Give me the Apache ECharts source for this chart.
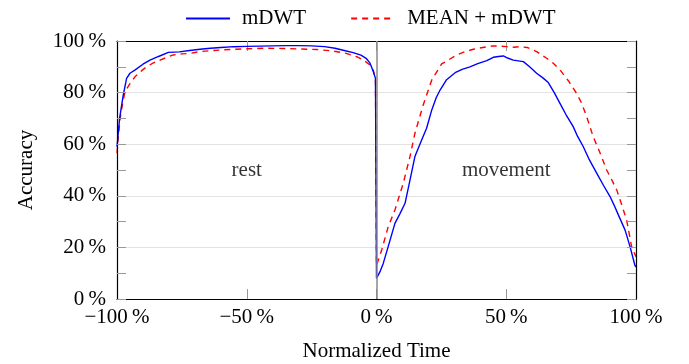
<!DOCTYPE html>
<html>
<head>
<meta charset="utf-8">
<script src="https://cdn.jsdelivr.net/npm/echarts@6/dist/echarts.min.js"></script>
<style>html,body{margin:0;padding:0;background:#fff}#c{width:689px;height:364px}</style>
</head>
<body>
<div id="c"></div>
<script>
// ---- data ----
const seriesNames = ['mDWT', 'MEAN + mDWT'];
const xTicks = [-100, -50, 0, 50, 100];
const yTicks = [0, 20, 40, 60, 80, 100];
const regionLabels = ['rest', 'movement'];
const regionX = [-50, 50];
const regionY = [50, 50];

const mdwtX = [-100, -99, -97.6, -96.3, -95, -93, -90, -87.3, -84, -80.2, -76, -72, -68, -64, -60, -55, -50, -45, -40, -35, -30, -25, -20, -16, -12, -9, -6, -4, -2.5, -1.2, -0.4,
  0, 1.3, 2.6, 4.5, 7.1, 9, 11, 12.9, 14.8, 17.4, 19.3, 21.3, 23, 24.5, 27, 30.3, 33, 36, 39, 42.5, 45, 47, 48.9, 50.5, 52.7, 56.6, 59, 61.7, 64, 66.2, 68.5, 70.7, 73, 75.8, 77.5, 79.7, 82, 84.9, 87.5, 90, 91.5, 93.2, 95.8, 97.7, 99.6, 100];
const mdwtY = [59, 70, 79, 85.5, 87.5, 88.8, 91, 92.6, 94, 95.6, 95.8, 96.3, 96.8, 97.2, 97.5, 97.8, 97.9, 98, 98.1, 98.2, 98.2, 98.1, 97.8, 97.2, 96.2, 95.5, 94.5, 93.3, 91.4, 88.1, 85.5,
  8, 10.5, 13.8, 20.3, 29.3, 33, 37.1, 46.1, 55.2, 61.6, 66.2, 73.3, 78, 81, 85, 87.7, 89, 90, 91.2, 92.4, 93.7, 94, 94.2, 93.4, 92.6, 92, 90, 87.5, 85.8, 83.9, 80, 75.8, 71.5, 66.8, 63, 59, 54, 48.7, 44, 39.7, 36.5, 32.6, 26.7, 20.3, 13, 12.4];

const meanX = [-100, -99.5, -98.8, -97.8, -96.9, -95, -93, -90.5, -88.6, -86, -83.4, -80.5, -78.3, -75, -71.9, -68, -64.2, -60, -55, -50, -42.3, -35, -29.5, -23, -16.6, -12, -7.6, -5, -2.5, -1.2, -0.4,
  0, 2, 4.5, 7.1, 10.3, 12.9, 14.8, 18, 21.3, 25.1, 27.5, 30.9, 34, 37.3, 41, 45, 47.5, 50.2, 53, 55.3, 58, 61.7, 65.6, 68, 70.7, 74, 77.1, 79, 81, 83.5, 86, 88.7, 90.5, 92.6, 94.5, 96.4, 98.3, 100];
const meanY = [56.5, 63, 70, 76, 80.4, 83.5, 86.2, 88.5, 90, 91.5, 92.6, 93.8, 94.6, 95, 95.2, 95.9, 96.2, 96.5, 96.8, 97, 97.2, 97.1, 96.9, 96.7, 96.1, 95.3, 93.9, 92.6, 90.7, 88.5, 85,
  13, 19, 28, 34.5, 44.8, 55.2, 64.2, 75.2, 84.9, 91.1, 92.5, 94.6, 95.8, 96.8, 97.5, 98.1, 98, 97.8, 97.6, 97.8, 97.5, 95.9, 93.3, 91.5, 88.8, 84.5, 79.7, 76, 70.7, 62.9, 57, 50, 46.5, 42.2, 36.5, 30.6, 20.3, 16.4];

// ---- chart ----
const FONT = 'Liberation Serif';
const zip = (xs, ys) => xs.map((x, i) => [x, ys[i]]);
const pct = v => (v < 0 ? '\u2212' + Math.abs(v) : String(v)) + '\u2009%';

const chart = echarts.init(document.getElementById('c'), null, {renderer: 'canvas'});
const tickStyle = {color: '#999', width: 1};
const blackLine = {show: true, onZero: false, lineStyle: {color: '#000', width: 1.2}};
chart.setOption({
  animation: false,
  textStyle: {fontFamily: FONT, color: '#000'},
  legend: {
    top: 3, left: 180,
    data: seriesNames,
    itemWidth: 44, itemHeight: 14, itemGap: 44,
    itemStyle: {opacity: 0},
    textStyle: {fontFamily: FONT, fontSize: 21, color: '#000', padding: [0, 0, 0, 7]}
  },
  grid: {left: 117, right: 53, top: 41, bottom: 65, show: false, outerBoundsMode: 'none', containLabel: false},
  xAxis: [{
    type: 'value', min: -100, max: 100, interval: 50, position: 'bottom',
    name: 'Normalized Time', nameLocation: 'middle', nameGap: 42,
    nameTextStyle: {fontFamily: FONT, fontSize: 21, color: '#000'},
    axisLine: blackLine,
    axisTick: {show: true, inside: true, length: 10, lineStyle: tickStyle},
    axisLabel: {fontFamily: FONT, fontSize: 21, color: '#000', margin: 8,
      formatter: v => xTicks.includes(v) ? pct(v) : ''},
    splitLine: {show: false}
  }, {
    type: 'value', min: -100, max: 100, interval: 50, position: 'top',
    axisLine: blackLine,
    axisTick: {show: true, inside: true, length: 10, lineStyle: tickStyle},
    axisLabel: {show: false}, splitLine: {show: false}
  }],
  yAxis: [{
    type: 'value', min: 0, max: 100, interval: 10, position: 'left', offset: 0,
    name: 'Accuracy', nameLocation: 'middle', nameGap: 80, nameRotate: 90,
    nameTextStyle: {fontFamily: FONT, fontSize: 21, color: '#000'},
    axisLine: blackLine,
    axisTick: {show: true, inside: true, length: 9, lineStyle: tickStyle},
    axisLabel: {fontFamily: FONT, fontSize: 21, color: '#000', margin: 11,
      formatter: v => yTicks.includes(v) ? pct(v) : ''},
    splitLine: {show: false}, z: 5
  }, {
    type: 'value', min: 0, max: 100, interval: 10, position: 'right', offset: 0,
    axisLine: blackLine,
    axisTick: {show: true, inside: true, length: 9, lineStyle: tickStyle},
    axisLabel: {show: false}, splitLine: {show: false}, z: 5
  }, {
    type: 'value', min: 0, max: 100, interval: 20, position: 'left', offset: 0,
    axisLine: {show: false}, axisTick: {show: false}, axisLabel: {show: false},
    splitLine: {show: true, lineStyle: {color: '#e3e3e3', width: 1}}
  }],
  series: [{
    name: seriesNames[0], type: 'line', data: zip(mdwtX, mdwtY),
    symbol: 'none', showSymbol: false, z: 3,
    lineStyle: {color: '#0000ff', width: 1.4},
    itemStyle: {color: '#0000ff'},
    markLine: {
      silent: true, symbol: 'none', label: {show: false},
      lineStyle: {color: '#888', width: 1.5, type: 'solid'},
      data: [{xAxis: 0}]
    }
  }, {
    name: seriesNames[1], type: 'line', data: zip(meanX, meanY),
    symbol: 'none', showSymbol: false, z: 2,
    lineStyle: {color: '#ff0000', width: 1.4, type: [6, 5]},
    itemStyle: {color: '#ff0000'}
  }, {
    name: 'labels', type: 'scatter', symbolSize: 0, silent: true,
    data: regionLabels.map((t, i) => ({value: [regionX[i], regionY[i]], name: t})),
    label: {show: true, position: 'inside', formatter: p => p.name,
      fontFamily: FONT, fontSize: 21, color: '#000'}
  }]
});
</script>
</body>
</html>
